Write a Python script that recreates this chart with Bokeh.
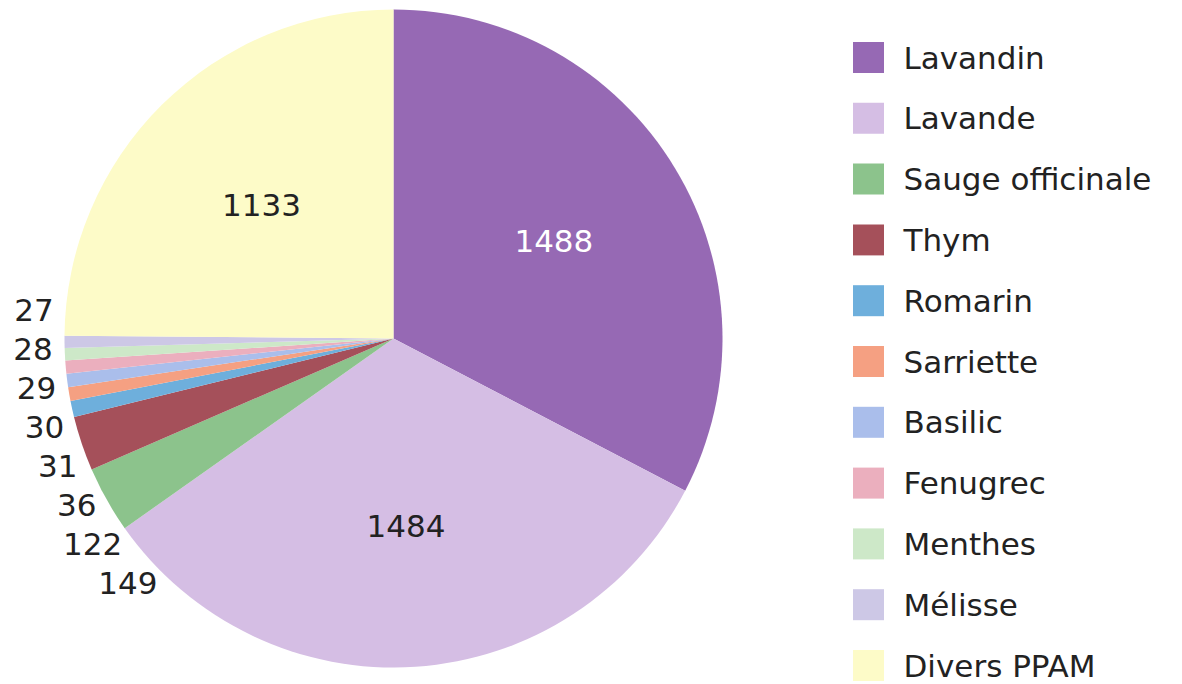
import math
from bokeh.plotting import figure
from bokeh.models import Range1d, ColumnDataSource
from bokeh.core.properties import value
from bokeh.embed import file_html
from bokeh.resources import INLINE

# ---- data ----
categories = ["Lavandin", "Lavande", "Sauge officinale", "Thym", "Romarin",
              "Sarriette", "Basilic", "Fenugrec", "Menthes", "Mélisse", "Divers PPAM"]
values = [1488, 1484, 149, 122, 36, 31, 30, 29, 28, 27, 1133]
colors = ["#9669b4", "#d5bee4", "#8cc38c", "#a5505a", "#6eafdc",
          "#f5a082", "#aabeeb", "#ebafbe", "#cde8c8", "#cdc8e6", "#fdfbc8"]
label_colors = ["white", "#222222", "#222222", "#222222", "#222222", "#222222",
                "#222222", "#222222", "#222222", "#222222", "#222222"]

# ---- layout ----
W, H = 1180, 682
CX, CY, R = 393, 344, 329
FONT = value("DejaVu Sans")
FS = "31px"

total = sum(values)
starts, ends, mids = [], [], []
acc = 0
for v in values:
    a0 = math.pi / 2 - 2 * math.pi * acc / total
    acc += v
    a1 = math.pi / 2 - 2 * math.pi * acc / total
    starts.append(a0); ends.append(a1); mids.append((a0 + a1) / 2)

p = figure(width=W, height=H, output_backend="svg", toolbar_location=None,
           x_range=Range1d(0, W), y_range=Range1d(0, H),
           min_border=0, outline_line_color=None)
p.axis.visible = False
p.grid.visible = False
p.background_fill_color = "white"
p.border_fill_color = "white"

src = ColumnDataSource(dict(cat=categories, val=values, color=colors,
                            start=starts, end=ends))
p.wedge(x=CX, y=CY, radius=R, start_angle="start", end_angle="end",
        direction="clock", fill_color="color", line_color=None, source=src)

# inside labels for large slices, stacked outside labels for small ones
in_x, in_y, in_t, in_c = [], [], [], []
small = []
for i, v in enumerate(values):
    if v > 500:
        rr = 0.57 * R
        in_x.append(CX + rr * math.cos(mids[i]))
        in_y.append(CY + rr * math.sin(mids[i]))
        in_t.append(str(v)); in_c.append(label_colors[i])
    else:
        small.append(i)
p.text(x=in_x, y=in_y, text=in_t, text_color=in_c, text_font=FONT,
       text_font_size=FS, text_align="center", text_baseline="middle")

# stack small labels from top (last slice) downwards, following the arc
small_order = list(reversed(small))
top_dy = R * math.sin(mids[small_order[0]]) + 32
gap = 39
out_x, out_y, out_t = [], [], []
RL = R + 8
for k, i in enumerate(small_order):
    dy = top_dy - k * gap
    dx = math.sqrt(max(RL * RL - dy * dy, 0))
    out_x.append(CX - dx - 4)
    out_y.append(CY + dy)
    out_t.append(str(values[i]))
p.text(x=out_x, y=out_y, text=out_t, text_color="#222222", text_font=FONT,
       text_font_size=FS, text_align="right", text_baseline="middle")

# legend
LX, LY0, LSTEP, SQ = 868, 625, 60.8, 31
ly = [LY0 - k * LSTEP for k in range(len(categories))]
p.rect(x=[LX] * len(categories), y=ly, width=SQ, height=SQ,
       fill_color=colors, line_color=None)
p.text(x=[LX + 35] * len(categories), y=ly, text=categories,
       text_color="#222222", text_font=FONT, text_font_size=FS,
       text_align="left", text_baseline="middle")

open("out.html", "w").write(file_html(p, INLINE))
